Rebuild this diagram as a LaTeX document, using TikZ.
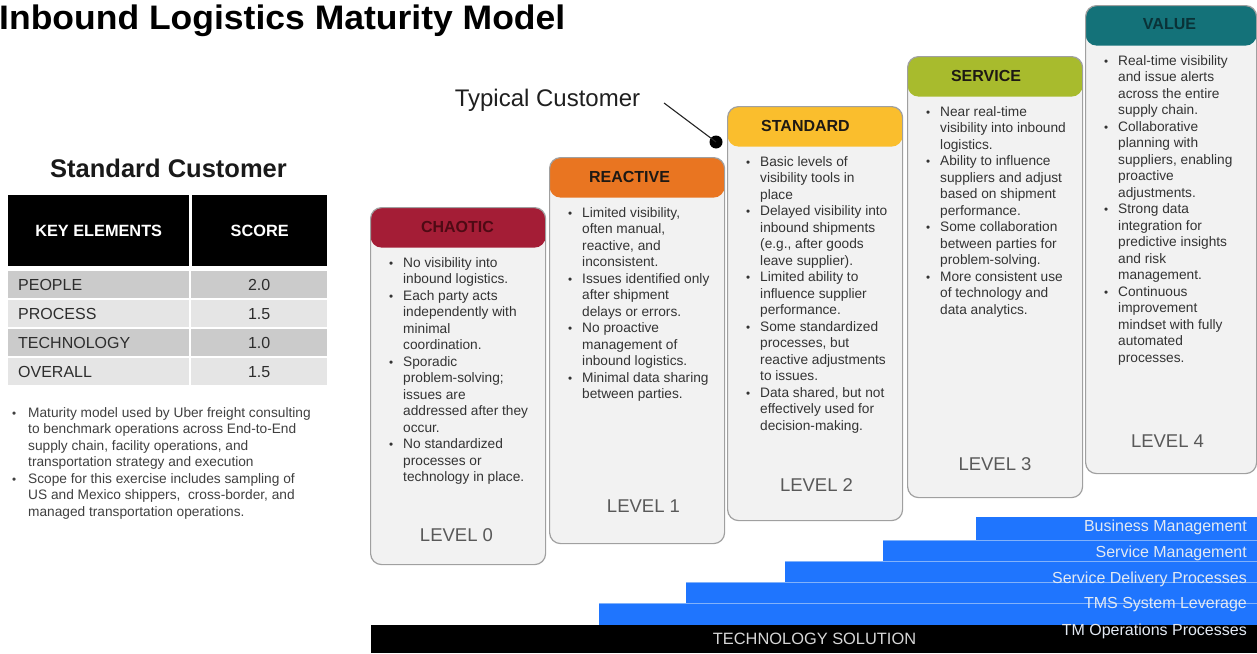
\documentclass[tikz,border=0pt]{standalone}
\usepackage{fontspec}
\setmainfont{Liberation Sans}
\usepackage{graphicx}

% palette
\definecolor{chaos}{RGB}{164,29,54}
\definecolor{chaostxt}{RGB}{78,10,20}
\definecolor{reactive}{RGB}{233,117,33}
\definecolor{standard}{RGB}{250,190,45}
\definecolor{service}{RGB}{168,187,45}
\definecolor{valuec}{RGB}{20,114,121}
\definecolor{valuetxt}{RGB}{10,50,55}
\definecolor{hdrdark}{RGB}{30,25,20}
\definecolor{boxfill}{RGB}{242,242,242}
\definecolor{boxline}{RGB}{160,160,160}
\definecolor{bodytxt}{RGB}{51,51,51}
\definecolor{lvltxt}{RGB}{89,89,89}
\definecolor{barblue}{RGB}{31,117,254}
\definecolor{barsepc}{RGB}{130,178,250}
\definecolor{bartxt}{RGB}{226,233,243}
\definecolor{techtxt}{RGB}{215,215,215}
\definecolor{rowdark}{RGB}{203,203,203}
\definecolor{rowlight}{RGB}{229,229,229}
\definecolor{tbltxt}{RGB}{45,45,45}

% bullets for the level boxes and the side notes
\newcommand\bu{\makebox[14pt][l]{\scalebox{0.85}{\textbullet}}}
\newcommand\bx{\hspace*{14pt}}
\newcommand\lbu{\makebox[19pt][l]{\hspace{3pt}\scalebox{0.85}{\textbullet}}}
\newcommand\lbx{\hspace*{19pt}}

\tikzset{
  lvlbox/.style={draw=boxline, line width=1.2pt, fill=boxfill, rounded corners=11pt,
    minimum width=175pt, inner sep=0pt, anchor=north west},
  hdr/.style={path picture={\fill[#1] (path picture bounding box.north west)
    rectangle ([yshift=-40pt]path picture bounding box.north east);}},
  hdrtext/.style={font=\fontsize{16}{19}\selectfont\bfseries},
  body/.style={anchor=north west, inner sep=0pt, align=left, text=bodytxt,
    font=\fontsize{13.7}{16.5}\selectfont},
  lvltext/.style={text=lvltxt, font=\fontsize{18.5}{22}\selectfont},
  cell/.style={anchor=north west, inner sep=0pt, minimum height=27pt,
    text=tbltxt, font=\fontsize{16}{19}\selectfont},
  headcell/.style={anchor=north west, inner sep=0pt, minimum height=71pt, fill=black,
    text=white, font=\fontsize{16.3}{19}\selectfont\bfseries},
  bar/.style={anchor=north west, inner sep=0pt, fill=barblue},
  barsep/.style={draw=barsepc, line width=0.9pt},
  bartext/.style={anchor=east, inner sep=0pt, text=bartxt, font=\fontsize{16}{19}\selectfont},
}

\begin{document}
\begin{tikzpicture}[x=1pt, y=-1pt]
\useasboundingbox (0,0) rectangle (1257,653);
\fill[white] (0,0) rectangle (1257,653);

% title
\node[anchor=base west, inner sep=0pt] (title) at (-1,29)
  {\resizebox{566pt}{\height}{\fontsize{34}{38}\selectfont\bfseries Inbound Logistics Maturity Model}};

% customer score table
\node[anchor=base, inner sep=0pt, text=black!90, font=\fontsize{25.5}{30}\selectfont\bfseries]
  (sctitle) at (168.5,177) {Standard Customer};
\node[headcell, minimum width=181pt] (keyhead) at (8,195) {KEY ELEMENTS};
\node[headcell, minimum width=135pt] (scorehead) at (192,195) {SCORE};
\foreach \i/\lab/\sc/\col in {0/PEOPLE/2.0/rowdark, 1/PROCESS/1.5/rowlight,
                              2/TECHNOLOGY/1.0/rowdark, 3/OVERALL/1.5/rowlight} {
  \node[cell, fill=\col, minimum width=181pt] (rowa\i) at (8,{271+29*\i}) {};
  \node[cell, fill=\col, minimum width=136pt] (rowb\i) at (191,{271+29*\i}) {\sc};
  \node[anchor=west, inner sep=0pt, text=tbltxt, font=\fontsize{16}{19}\selectfont]
    (rowl\i) at ([xshift=10pt]rowa\i.west) {\lab};
}

% side notes
\node[body, text=black!75] (notes) at (9,407) {%
\lbu Maturity model used by Uber freight consulting\\
\lbx to benchmark operations across End-to-End\\
\lbx supply chain, facility operations, and\\
\lbx transportation strategy and execution\\
\lbu Scope for this exercise includes sampling of\\
\lbx US and Mexico shippers,\ \ cross-border, and\\
\lbx managed transportation operations.};

% foundation bars
\node[bar, minimum width=281pt, minimum height=23pt] (busm) at (976,517) {};
\node[bar, minimum width=374pt, minimum height=21pt] (servm) at (883,540) {};
\node[bar, minimum width=472pt, minimum height=21pt] (servd) at (785,561) {};
\node[bar, minimum width=571pt, minimum height=21pt] (tmsl) at (686,582) {};
\node[bar, minimum width=658pt, minimum height=22pt] (tmop) at (599,603) {};
\node[anchor=north west, inner sep=0pt, fill=black, minimum width=886pt, minimum height=28pt]
  (tech) at (371,625) {};
\draw[barsep] (servm.north west) -- (servm.north east);
\draw[barsep] (servd.north west) -- (servd.north east);
\draw[barsep] (tmsl.north west) -- (tmsl.north east);
\draw[barsep] (tmop.north west) -- (tmop.north east);
\node[bartext] (lbusm) at (1247,527) {Business Management};
\node[bartext] (lservm) at (1247,553) {Service Management};
\node[bartext] (lservd) at (1247,579) {Service Delivery Processes};
\node[bartext] (ltmsl) at (1247,605) {TMS System Leverage};
\node[bartext] (ltmop) at (1247,631) {TM Operations Processes};
\node[text=techtxt, font=\fontsize{16.4}{19}\selectfont] (ltech) at (814.5,639) {TECHNOLOGY SOLUTION};

% level 0
\node[lvlbox, hdr=chaos, minimum height=357pt] (box0) at (370,207) {};
\node[hdrtext, text=chaostxt] (head0) at (457.5,227) {CHAOTIC};
\node[body] (text0) at (389,257) {%
\bu No visibility into\\
\bx inbound logistics.\\
\bu Each party acts\\
\bx independently with\\
\bx minimal\\
\bx coordination.\\
\bu Sporadic\\
\bx problem-solving;\\
\bx issues are\\
\bx addressed after they\\
\bx occur.\\
\bu No standardized\\
\bx processes or\\
\bx technology in place.};
\node[lvltext] (lev0) at (456.5,535) {LEVEL 0};

% level 1
\node[lvlbox, hdr=reactive, minimum height=386pt] (box1) at (549,157) {};
\node[hdrtext, text=hdrdark] (head1) at (629.5,177) {REACTIVE};
\node[body] (text1) at (568,207) {%
\bu Limited visibility,\\
\bx often manual,\\
\bx reactive, and\\
\bx inconsistent.\\
\bu Issues identified only\\
\bx after shipment\\
\bx delays or errors.\\
\bu No proactive\\
\bx management of\\
\bx inbound logistics.\\
\bu Minimal data sharing\\
\bx between parties.};
\node[lvltext] (lev1) at (643.5,506) {LEVEL 1};

% level 2
\node[lvlbox, hdr=standard, minimum height=414pt] (box2) at (727,106) {};
\node[hdrtext, text=hdrdark] (head2) at (805.5,126) {STANDARD};
\node[body] (text2) at (746,156) {%
\bu Basic levels of\\
\bx visibility tools in\\
\bx place\\
\bu Delayed visibility into\\
\bx inbound shipments\\
\bx (e.g., after goods\\
\bx leave supplier).\\
\bu Limited ability to\\
\bx influence supplier\\
\bx performance.\\
\bu Some standardized\\
\bx processes, but\\
\bx reactive adjustments\\
\bx to issues.\\
\bu Data shared, but not\\
\bx effectively used for\\
\bx decision-making.};
\node[lvltext] (lev2) at (816.5,485) {LEVEL 2};

% level 3
\node[lvlbox, hdr=service, minimum height=441pt] (box3) at (907,56) {};
\node[hdrtext, text=hdrdark] (head3) at (986,75.5) {SERVICE};
\node[body] (text3) at (926,106) {%
\bu Near real-time\\
\bx visibility into inbound\\
\bx logistics.\\
\bu Ability to influence\\
\bx suppliers and adjust\\
\bx based on shipment\\
\bx performance.\\
\bu Some collaboration\\
\bx between parties for\\
\bx problem-solving.\\
\bu More consistent use\\
\bx of technology and\\
\bx data analytics.};
\node[lvltext] (lev3) at (995,464) {LEVEL 3};

% level 4
\node[lvlbox, hdr=valuec, minimum height=468pt, minimum width=171pt] (box4) at (1085,5) {};
\node[hdrtext, text=valuetxt] (head4) at (1169.5,24.5) {VALUE};
\node[body] (text4) at (1104,55) {%
\bu Real-time visibility\\
\bx and issue alerts\\
\bx across the entire\\
\bx supply chain.\\
\bu Collaborative\\
\bx planning with\\
\bx suppliers, enabling\\
\bx proactive\\
\bx adjustments.\\
\bu Strong data\\
\bx integration for\\
\bx predictive insights\\
\bx and risk\\
\bx management.\\
\bu Continuous\\
\bx improvement\\
\bx mindset with fully\\
\bx automated\\
\bx processes.};
\node[lvltext] (lev4) at (1167.5,441) {LEVEL 4};

% typical customer marker
\node[text=black!88, font=\fontsize{24}{28}\selectfont] (typ) at (547.5,100) {Typical Customer};
\coordinate (typend) at (664,103);
\node[circle, fill=black, inner sep=0pt, minimum size=13pt] (dot) at (716,142) {};
\draw[line width=1.1pt, black!85] (typend) -- (dot.center);

\end{tikzpicture}
\end{document}
